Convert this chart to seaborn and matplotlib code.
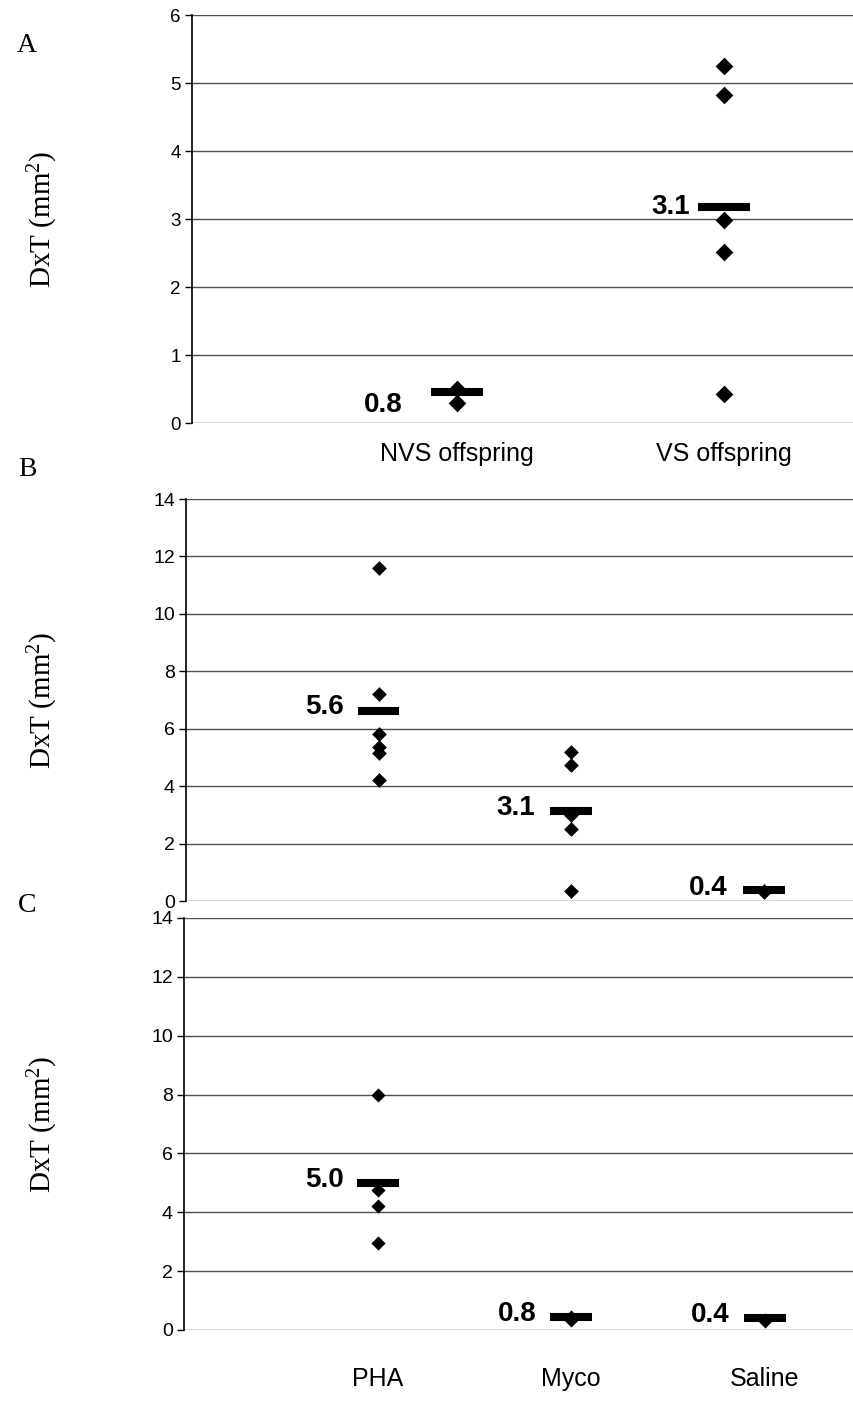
import matplotlib
matplotlib.use("Agg")
import matplotlib.pyplot as plt
import seaborn as sns
import pandas as pd

# ---------------- data ----------------
a_groups = ["NVS offspring", "VS offspring"]
a_nvs = [0.5, 0.3]
a_vs = [5.25, 4.82, 2.98, 2.52, 0.42]
a_means = [0.45, 3.18]
a_labels = ["0.8", "3.1"]

b_groups = ["PHA", "Myco", "Saline"]
b_pha = [11.6, 7.2, 5.8, 5.35, 5.15, 4.2]
b_myco = [5.2, 4.75, 3.0, 2.5, 0.35]
b_saline = [0.35, 0.3]
b_means = [6.6, 3.15, 0.4]
b_labels = ["5.6", "3.1", "0.4"]

c_groups = ["PHA", "Myco", "Saline"]
c_pha = [8.0, 4.75, 4.2, 2.95]
c_myco = [0.45, 0.35]
c_saline = [0.35, 0.3]
c_means = [5.0, 0.45, 0.4]
c_labels = ["5.0", "0.8", "0.4"]

ytick_a = [0, 1, 2, 3, 4, 5, 6]
ytick_bc = [0, 2, 4, 6, 8, 10, 12, 14]

# ---------------- style ----------------
sns.set_theme(style="white")
plt.rcParams["font.family"] = ["Liberation Sans", "DejaVu Sans"]
plt.rcParams["mathtext.fontset"] = "custom"
plt.rcParams["mathtext.rm"] = "Liberation Serif"
plt.rcParams["mathtext.it"] = "Liberation Serif:italic"
plt.rcParams["mathtext.bf"] = "Liberation Serif:bold"
plt.rcParams["mathtext.default"] = "rm"

W, H = 854, 1402
fig = plt.figure(figsize=(W / 100, H / 100), dpi=100)


def px_axes(left, top, bottom):
    return fig.add_axes([left / W, 1 - bottom / H, (W - left) / W, (bottom - top) / H])


def panel(ax, groups, series, means, labels, yticks, ms, halfw, xlim,
          offsets, show_cats, tick_fs, cat_pad):
    rows = []
    for g, vals in zip(groups, series):
        for v in vals:
            rows.append({"group": g, "value": v})
    df = pd.DataFrame(rows)
    sns.stripplot(data=df, x="group", y="value", order=groups, jitter=False,
                  marker="D", color="black", size=ms, linewidth=0, ax=ax,
                  zorder=3)
    ax.hlines(means, [i - halfw for i in range(len(groups))],
              [i + halfw for i in range(len(groups))],
              colors="black", linewidth=5.8, zorder=4, capstyle="butt")
    for i, (m, lab, (dx, dy)) in enumerate(zip(means, labels, offsets)):
        ax.annotate(lab, xy=(i - halfw, m), xytext=(dx, dy),
                    textcoords="offset points", ha="right", va="center",
                    fontsize=20, fontweight="bold", color="black",
                    family=["Liberation Sans", "DejaVu Sans"])
    ax.set_xlim(*xlim)
    ax.set_ylim(yticks[0], yticks[-1])
    ax.set_yticks(yticks)
    ax.set_yticklabels([str(t) for t in yticks], fontsize=tick_fs)
    ax.yaxis.grid(True, color="#505050", linewidth=1.0)
    ax.xaxis.grid(False)
    ax.set_axisbelow(True)
    for s in ["top", "right", "bottom"]:
        ax.spines[s].set_visible(False)
    ax.spines["left"].set_color("black")
    ax.spines["left"].set_linewidth(1.2)
    ax.tick_params(axis="y", direction="out", length=5, width=1,
                   color="black", left=True, labelcolor="black", pad=3)
    ax.tick_params(axis="x", length=0, pad=cat_pad, labelsize=18,
                   labelcolor="black")
    if not show_cats:
        ax.set_xticklabels([])
    else:
        for t in ax.get_xticklabels():
            t.set_verticalalignment("baseline")
    ax.set_xlabel("")
    ax.set_ylabel("")
    ax.patch.set_alpha(0)


# Panel A
axA = px_axes(192, 15, 423)
panel(axA, a_groups, [a_nvs, a_vs], a_means, a_labels, ytick_a, 9, 0.096,
      (-0.993, 1.487), [(-21, -9), (-6, 0)], True, 13.5, 27)

# Panel B
axB = px_axes(186, 499, 901)
panel(axB, b_groups, [b_pha, b_myco, b_saline], b_means, b_labels, ytick_bc,
      7.5, 0.109, (-1.0, 2.47), [(-10, 3), (-11, 2), (-11, 1)], False, 14, 14)

# Panel C
axC = px_axes(184, 918, 1330)
panel(axC, c_groups, [c_pha, c_myco, c_saline], c_means, c_labels, ytick_bc,
      7.2, 0.109, (-1.0, 2.46), [(-9, 2), (-10, 2), (-10, 2)], True, 14, 40)

# y labels and panel letters
serif = ["Liberation Serif", "DejaVu Serif"]
for yc in [(15 + 423) / 2, (499 + 901) / 2, (918 + 1330) / 2]:
    fig.text(43 / W, 1 - yc / H, "DxT (mm$^2$)", rotation=90, ha="center",
             va="center", fontsize=21, family=serif, color="black")
for letter, yc in [("A", 45), ("B", 470), ("C", 905)]:
    fig.text(27 / W, 1 - yc / H, letter, ha="center", va="center",
             fontsize=20, family=serif, color="black")

fig.savefig("out.png", dpi=100)
